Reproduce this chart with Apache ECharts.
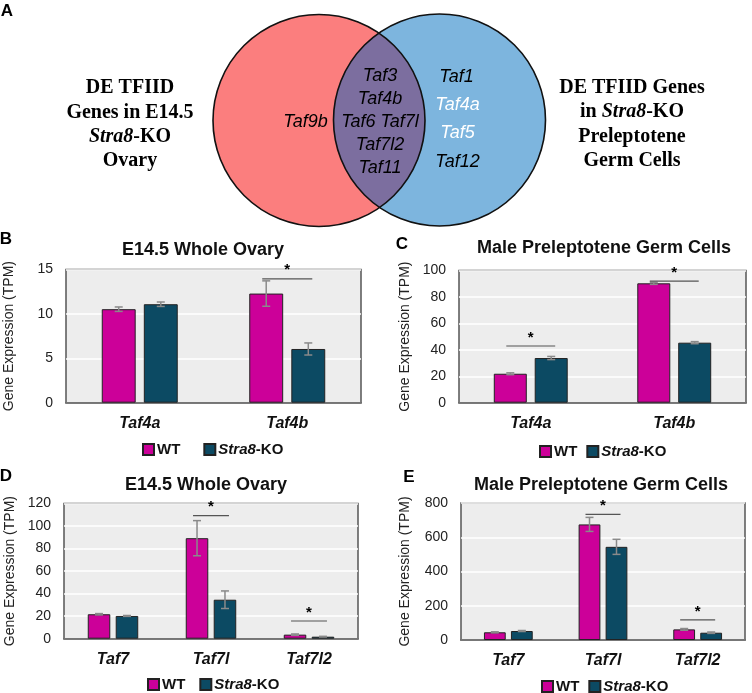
<!DOCTYPE html>
<html><head><meta charset="utf-8">
<script src="https://cdn.jsdelivr.net/npm/echarts@6/dist/echarts.min.js"></script>
<style>html,body{margin:0;padding:0;background:#fff}#c{width:752px;height:693px}</style>
</head><body><div id="c"></div>
<script>
// ---- data ----
const catsB = ['Taf4a', 'Taf4b'];
const wtB = [10.53, 12.29];
const wtBErr = [0.25, 1.43];
const koB = [11.09, 6.05];
const koBErr = [0.25, 0.68];
const sigB = [[1, 13.95]];

const catsC = ['Taf4a', 'Taf4b'];
const wtC = [21.9, 90.3];
const wtCErr = [0.7, 0.8];
const koC = [33.8, 45.4];
const koCErr = [1.2, 0.8];
const sigC = [[0, 42.9], [1, 92.0]];

const catsD = ['Taf7', 'Taf7l', 'Taf7l2'];
const wtD = [21.7, 89.2, 3.6];
const wtDErr = [0.6, 15.6, 0.6];
const koD = [20.2, 34.6, 1.8];
const koDErr = [0.4, 7.8, 0.3];
const sigD = [[1, 109.2], [2, 15.7]];

const catsE = ['Taf7', 'Taf7l', 'Taf7l2'];
const wtE = [45, 675, 62];
const wtEErr = [3, 41, 5];
const koE = [52.5, 544, 42.6];
const koEErr = [3, 44, 4];
const sigE = [[1, 733], [2, 117]];

const yTicksB = [0, 15, 5];
const yTicksC = [0, 100, 20];
const yTicksD = [0, 120, 20];
const yTicksE = [0, 800, 200];

const vennLeftOnly = ['Taf9b'];
const vennShared = ['Taf3', 'Taf4b', 'Taf6 Taf7l', 'Taf7l2', 'Taf11'];
const vennRightOnly = ['Taf1', 'Taf4a', 'Taf5', 'Taf12'];
const vennRightWhite = [false, true, true, false];

// ---- styling ----
const SANS = '"Liberation Sans", Arial, Helvetica, sans-serif';
const SERIF = '"Liberation Serif", "Times New Roman", serif';
const WT_COLOR = '#CC0099';
const KO_COLOR = '#0C4A63';
const BAR_W = 0.23, BAR_GAP = 0.24;

function errRender(params, api) {
  const cat = api.value(0), v = api.value(1), e = api.value(2), side = api.value(3);
  const c = api.coord([cat, v]);
  const band = api.size([1, 0])[0];
  const bw = band * BAR_W, g = bw * BAR_GAP;
  const x = c[0] + side * (bw + g) / 2;
  const top = api.coord([cat, v + e])[1];
  const bot = api.coord([cat, v - e])[1];
  const cap = 4;
  const st = { stroke: '#8a8a8a', lineWidth: 1.5 };
  return { type: 'group', children: [
    { type: 'line', shape: { x1: x, y1: top, x2: x, y2: bot }, style: st },
    { type: 'line', shape: { x1: x - cap, y1: top, x2: x + cap, y2: top }, style: st },
    { type: 'line', shape: { x1: x - cap, y1: bot, x2: x + cap, y2: bot }, style: st }
  ]};
}
function sigRender(params, api) {
  const cat = api.value(0), v = api.value(1);
  const c = api.coord([cat, v]);
  const band = api.size([1, 0])[0];
  const bw = band * BAR_W, g = bw * BAR_GAP;
  const off = (bw + g) / 2;
  const x1 = c[0] - off - 4, x2 = c[0] + off + 4;
  return { type: 'group', children: [
    { type: 'line', shape: { x1: x1, y1: c[1], x2: x2, y2: c[1] }, style: { stroke: '#555', lineWidth: 1.2 } },
    { type: 'text', style: { text: '*', x: c[0], y: c[1] - 1, align: 'center', verticalAlign: 'bottom',
      textAlign: 'center', textVerticalAlign: 'bottom', font: 'bold 15px ' + SANS, fill: '#000' } }
  ]};
}

const panels = [
  { cats: catsB, wt: wtB, wtE: wtBErr, ko: koB, koE: koBErr, sig: sigB, y: yTicksB,
    grid: { left: 66, top: 269.5, width: 295, height: 133.2 }, nameGap: 50 },
  { cats: catsC, wt: wtC, wtE: wtCErr, ko: koC, koE: koCErr, sig: sigC, y: yTicksC,
    grid: { left: 459, top: 270.5, width: 287, height: 132.2 }, nameGap: 47 },
  { cats: catsD, wt: wtD, wtE: wtDErr, ko: koD, koE: koDErr, sig: sigD, y: yTicksD,
    grid: { left: 64, top: 503.5, width: 294, height: 135.2 }, nameGap: 47 },
  { cats: catsE, wt: wtE, wtE: wtEErr, ko: koE, koE: koEErr, sig: sigE, y: yTicksE,
    grid: { left: 461, top: 503, width: 284, height: 137 }, nameGap: 49 }
];

const grid = [], xAxis = [], yAxis = [], series = [];
panels.forEach((p, i) => {
  grid.push(Object.assign({ show: true, backgroundColor: '#EDEDED', borderColor: '#555', borderWidth: 1.5 }, p.grid));
  xAxis.push({ type: 'category', gridIndex: i, data: p.cats,
    axisLine: { show: true, lineStyle: { color: '#555', width: 1.5 } }, axisTick: { show: false },
    axisLabel: { fontFamily: SANS, fontStyle: 'italic', fontWeight: 'bold', fontSize: 16, color: '#111', margin: 13 } });
  yAxis.push({ type: 'value', gridIndex: i, min: p.y[0], max: p.y[1], interval: p.y[2],
    name: 'Gene Expression (TPM)', nameLocation: 'middle', nameGap: p.nameGap,
    nameTextStyle: { fontFamily: SANS, fontSize: 14, color: '#222' },
    axisLine: { show: false }, axisTick: { show: false },
    splitLine: { lineStyle: { color: '#ffffff', width: 1.5 } },
    axisLabel: { fontFamily: SANS, fontSize: 14, color: '#222', margin: 13 } });
  series.push({ type: 'bar', name: 'WT', xAxisIndex: i, yAxisIndex: i, data: p.wt,
    barWidth: (BAR_W * 100) + '%', barGap: (BAR_GAP * 100) + '%',
    itemStyle: { color: WT_COLOR, borderColor: '#222', borderWidth: 1 } });
  series.push({ type: 'bar', name: 'Stra8-KO', xAxisIndex: i, yAxisIndex: i, data: p.ko,
    barWidth: (BAR_W * 100) + '%', barGap: (BAR_GAP * 100) + '%',
    itemStyle: { color: KO_COLOR, borderColor: '#222', borderWidth: 1 } });
  const errData = [];
  p.wt.forEach((v, k) => errData.push([k, v, p.wtE[k], -1]));
  p.ko.forEach((v, k) => errData.push([k, v, p.koE[k], 1]));
  series.push({ type: 'custom', xAxisIndex: i, yAxisIndex: i, data: errData, renderItem: errRender,
    encode: { x: 0, y: 1 }, z: 5, silent: true });
  series.push({ type: 'custom', xAxisIndex: i, yAxisIndex: i, data: p.sig, renderItem: sigRender,
    encode: { x: 0, y: 1 }, z: 6, silent: true, clip: false });
});

const legendRich = {
  b: { fontFamily: SANS, fontWeight: 'bold', fontSize: 15, color: '#111' },
  i: { fontFamily: SANS, fontWeight: 'bold', fontStyle: 'italic', fontSize: 15, color: '#111' }
};
function legendFmt(n) { return n === 'WT' ? '{b|WT}' : '{i|Stra8}{b|-KO}'; }
const legendPos = [
  { left: 142, top: 442, itemGap: 23 },
  { left: 539, top: 444, itemGap: 9 },
  { left: 147, top: 677, itemGap: 14 },
  { left: 541, top: 679, itemGap: 9 }
];
const legend = legendPos.map(lp => Object.assign({
  data: ['WT', 'Stra8-KO'], icon: 'rect', itemWidth: 11, itemHeight: 11, itemGap: 10,
  orient: 'horizontal', padding: 0, selectedMode: false,
  formatter: legendFmt, textStyle: { rich: legendRich, padding: [0, 0, 0, -2] }
}, lp));

// ---- venn + texts (graphic) ----
const L = { cx: 319, cy: 120.5, r: 106 }, R = { cx: 439.5, cy: 120, r: 106 };
function lensPoints(A, B) {
  const dx = B.cx - A.cx, dy = B.cy - A.cy, d = Math.hypot(dx, dy);
  const a = (d * d + A.r * A.r - B.r * B.r) / (2 * d);
  const base = Math.atan2(dy, dx);
  const angA = Math.acos(a / A.r);
  const angB = Math.acos((d - a) / B.r);
  const pts = [];
  const N = 80;
  // arc of A facing B
  for (let k = 0; k <= N; k++) {
    const t = base - angA + (2 * angA) * k / N;
    pts.push([A.cx + A.r * Math.cos(t), A.cy + A.r * Math.sin(t)]);
  }
  // arc of B facing A
  const baseB = base + Math.PI;
  for (let k = 1; k < N; k++) {
    const t = baseB - angB + (2 * angB) * k / N;
    pts.push([B.cx + B.r * Math.cos(t), B.cy + B.r * Math.sin(t)]);
  }
  return pts;
}

function txt(x, y, text, font, fill, rich) {
  const s = { x: x, y: y, text: text, font: font, fill: fill || '#000', align: 'center', verticalAlign: 'middle',
    textAlign: 'center', textVerticalAlign: 'middle' };
  if (rich) s.rich = rich;
  return { type: 'text', style: s, z: 20 };
}
const vennFont = 'italic 18px ' + SANS;
const serifB = 'bold 20px ' + SERIF;
const serifRich = { i: { font: 'italic bold 20px ' + SERIF, fill: '#000' }, b: { font: 'bold 20px ' + SERIF, fill: '#000' } };

const graphic = [
  { type: 'circle', shape: { cx: L.cx, cy: L.cy, r: L.r }, style: { fill: '#FB7E7E' }, z: 1 },
  { type: 'circle', shape: { cx: R.cx, cy: R.cy, r: R.r }, style: { fill: '#7DB5DE' }, z: 2 },
  { type: 'polygon', shape: { points: lensPoints(L, R) }, style: { fill: '#7C6E9F' }, z: 3 },
  { type: 'circle', shape: { cx: L.cx, cy: L.cy, r: L.r }, style: { fill: 'none', stroke: '#111', lineWidth: 1.6 }, z: 4 },
  { type: 'circle', shape: { cx: R.cx, cy: R.cy, r: R.r }, style: { fill: 'none', stroke: '#111', lineWidth: 1.6 }, z: 4 },
  txt(305.5, 122, vennLeftOnly[0], vennFont),
  txt(7, 11, 'A', 'bold 17px ' + SANS),
  txt(6, 239, 'B', 'bold 17px ' + SANS),
  txt(402, 244, 'C', 'bold 17px ' + SANS),
  txt(6, 476, 'D', 'bold 17px ' + SANS),
  txt(409, 477, 'E', 'bold 17px ' + SANS),
  txt(203, 250, 'E14.5 Whole Ovary', 'bold 18px ' + SANS, '#111'),
  txt(604, 248, 'Male Preleptotene Germ Cells', 'bold 18px ' + SANS, '#111'),
  txt(206, 485, 'E14.5 Whole Ovary', 'bold 18px ' + SANS, '#111'),
  txt(601, 485, 'Male Preleptotene Germ Cells', 'bold 18px ' + SANS, '#111'),
  txt(130, 88, 'DE TFIID', serifB),
  txt(130, 113, 'Genes in E14.5', serifB),
  txt(130, 137, '{i|Stra8}{b|-KO}', serifB, '#000', serifRich),
  txt(130, 161, 'Ovary', serifB),
  txt(632, 88, 'DE TFIID Genes', serifB),
  txt(632, 112, '{b|in }{i|Stra8}{b|-KO}', serifB, '#000', serifRich),
  txt(632, 137, 'Preleptotene', serifB),
  txt(632, 161, 'Germ Cells', serifB)
];
const sharedY = [76, 99, 122, 145, 168];
vennShared.forEach((t, k) => graphic.push(txt(380, sharedY[k], t, vennFont)));
const rightY = [77, 105, 133, 161.5];
const rightX = [456.5, 457.5, 457.5, 457.5];
vennRightOnly.forEach((t, k) => graphic.push(txt(rightX[k], rightY[k], t, vennFont, vennRightWhite[k] ? '#fff' : '#000')));

const chart = echarts.init(document.getElementById('c'), null, { renderer: 'canvas' });
chart.setOption({ animation: false, backgroundColor: '#fff', grid, xAxis, yAxis, series, legend, graphic });
</script></body></html>
